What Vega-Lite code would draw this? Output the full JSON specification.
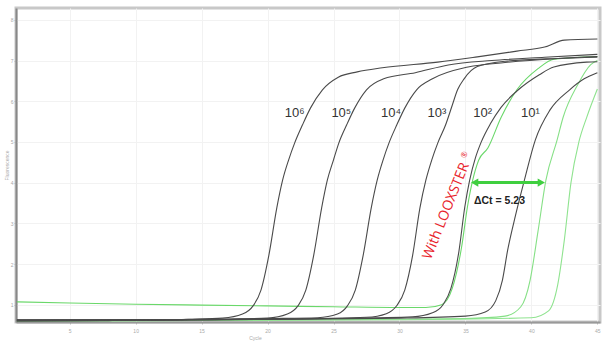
{
  "$schema": "https://vega.github.io/schema/vega-lite/v6.json",
  "width": 584,
  "height": 314,
  "autosize": {"type": "none"},
  "padding": {"left": 16, "top": 8, "right": 3, "bottom": 23},
  "background": "white",
  "config": {
    "view": {"stroke": "#c8c8c8", "strokeWidth": 3},
    "axis": {"gridColor": "#f2f2f2", "gridWidth": 1, "labelColor": "#aaaaaa", "labelFontSize": 5, "titleFontSize": 5, "titleColor": "#aaaaaa", "titleFontWeight": "normal", "tickColor": "#bbbbbb", "tickSize": 2, "labelFont": "Liberation Sans", "titleFont": "Liberation Sans"}
  },
  "datasets": {
    "curves": [
      {"s": "g1", "c": 1, "f": 1.07}, {"s": "g1", "c": 5, "f": 1.04}, {"s": "g1", "c": 10, "f": 1.01}, {"s": "g1", "c": 15, "f": 0.99}, {"s": "g1", "c": 20, "f": 0.97}, {"s": "g1", "c": 25, "f": 0.95}, {"s": "g1", "c": 30, "f": 0.93}, {"s": "g1", "c": 32, "f": 0.93}, {"s": "g1", "c": 33.2, "f": 1.0}, {"s": "g1", "c": 34.0, "f": 1.4}, {"s": "g1", "c": 34.7, "f": 2.4}, {"s": "g1", "c": 35.15, "f": 3.4}, {"s": "g1", "c": 35.55, "f": 4.06}, {"s": "g1", "c": 36.0, "f": 4.55}, {"s": "g1", "c": 36.7, "f": 4.85}, {"s": "g1", "c": 37.7, "f": 5.6}, {"s": "g1", "c": 38.9, "f": 6.28}, {"s": "g1", "c": 40.5, "f": 6.8}, {"s": "g1", "c": 41.7, "f": 7.03}, {"s": "g1", "c": 45, "f": 7.1},
      {"s": "g2", "c": 1, "f": 0.6}, {"s": "g2", "c": 25, "f": 0.63}, {"s": "g2", "c": 35, "f": 0.66}, {"s": "g2", "c": 38, "f": 0.72}, {"s": "g2", "c": 39.2, "f": 0.95}, {"s": "g2", "c": 39.9, "f": 1.6}, {"s": "g2", "c": 40.5, "f": 2.8}, {"s": "g2", "c": 41.1, "f": 4.06}, {"s": "g2", "c": 41.95, "f": 5.05}, {"s": "g2", "c": 42.4, "f": 5.6}, {"s": "g2", "c": 43.5, "f": 6.4}, {"s": "g2", "c": 44.5, "f": 6.9}, {"s": "g2", "c": 45, "f": 7.0},
      {"s": "g3", "c": 1, "f": 0.6}, {"s": "g3", "c": 30, "f": 0.63}, {"s": "g3", "c": 40, "f": 0.68}, {"s": "g3", "c": 41.3, "f": 0.85}, {"s": "g3", "c": 42.0, "f": 1.5}, {"s": "g3", "c": 42.5, "f": 2.6}, {"s": "g3", "c": 43.0, "f": 4.0}, {"s": "g3", "c": 43.6, "f": 5.0}, {"s": "g3", "c": 44.2, "f": 5.61}, {"s": "g3", "c": 45, "f": 6.3},
      {"s": "k6", "c": 1, "f": 0.6}, {"s": "k6", "c": 8, "f": 0.61}, {"s": "k6", "c": 14, "f": 0.64}, {"s": "k6", "c": 16.6, "f": 0.67}, {"s": "k6", "c": 18.1, "f": 0.77}, {"s": "k6", "c": 18.9, "f": 0.97}, {"s": "k6", "c": 19.5, "f": 1.36}, {"s": "k6", "c": 20.1, "f": 2.22}, {"s": "k6", "c": 20.7, "f": 3.38}, {"s": "k6", "c": 21.14, "f": 4.06}, {"s": "k6", "c": 21.6, "f": 4.56}, {"s": "k6", "c": 22.05, "f": 4.97}, {"s": "k6", "c": 22.65, "f": 5.42}, {"s": "k6", "c": 23.25, "f": 5.83}, {"s": "k6", "c": 24.16, "f": 6.28}, {"s": "k6", "c": 25.36, "f": 6.59}, {"s": "k6", "c": 26.8, "f": 6.72}, {"s": "k6", "c": 28.7, "f": 6.82}, {"s": "k6", "c": 32.9, "f": 6.96}, {"s": "k6", "c": 35.9, "f": 7.09}, {"s": "k6", "c": 38.9, "f": 7.23}, {"s": "k6", "c": 41.0, "f": 7.33}, {"s": "k6", "c": 42.5, "f": 7.5}, {"s": "k6", "c": 45, "f": 7.53},
      {"s": "k5", "c": 1, "f": 0.6}, {"s": "k5", "c": 10, "f": 0.62}, {"s": "k5", "c": 17, "f": 0.65}, {"s": "k5", "c": 20, "f": 0.67}, {"s": "k5", "c": 21.5, "f": 0.77}, {"s": "k5", "c": 22.3, "f": 0.97}, {"s": "k5", "c": 22.9, "f": 1.36}, {"s": "k5", "c": 23.5, "f": 2.22}, {"s": "k5", "c": 24.1, "f": 3.38}, {"s": "k5", "c": 24.53, "f": 4.06}, {"s": "k5", "c": 25.0, "f": 4.56}, {"s": "k5", "c": 25.4, "f": 4.97}, {"s": "k5", "c": 26.0, "f": 5.42}, {"s": "k5", "c": 26.6, "f": 5.83}, {"s": "k5", "c": 27.5, "f": 6.28}, {"s": "k5", "c": 28.8, "f": 6.55}, {"s": "k5", "c": 31.2, "f": 6.7}, {"s": "k5", "c": 33.7, "f": 6.89}, {"s": "k5", "c": 37, "f": 7.0}, {"s": "k5", "c": 41, "f": 7.08}, {"s": "k5", "c": 45, "f": 7.15},
      {"s": "k4", "c": 1, "f": 0.62}, {"s": "k4", "c": 12, "f": 0.62}, {"s": "k4", "c": 20, "f": 0.66}, {"s": "k4", "c": 23.8, "f": 0.68}, {"s": "k4", "c": 25.3, "f": 0.77}, {"s": "k4", "c": 26.05, "f": 0.97}, {"s": "k4", "c": 26.65, "f": 1.36}, {"s": "k4", "c": 27.25, "f": 2.22}, {"s": "k4", "c": 27.86, "f": 3.38}, {"s": "k4", "c": 28.31, "f": 4.06}, {"s": "k4", "c": 28.76, "f": 4.56}, {"s": "k4", "c": 29.2, "f": 4.97}, {"s": "k4", "c": 29.8, "f": 5.42}, {"s": "k4", "c": 30.4, "f": 5.83}, {"s": "k4", "c": 31.3, "f": 6.28}, {"s": "k4", "c": 32.5, "f": 6.55}, {"s": "k4", "c": 35.2, "f": 6.84}, {"s": "k4", "c": 38, "f": 6.95}, {"s": "k4", "c": 42, "f": 7.05}, {"s": "k4", "c": 45, "f": 7.1},
      {"s": "k3", "c": 1, "f": 0.62}, {"s": "k3", "c": 15, "f": 0.63}, {"s": "k3", "c": 24, "f": 0.66}, {"s": "k3", "c": 27.5, "f": 0.69}, {"s": "k3", "c": 29, "f": 0.78}, {"s": "k3", "c": 29.8, "f": 0.98}, {"s": "k3", "c": 30.4, "f": 1.36}, {"s": "k3", "c": 31.0, "f": 2.22}, {"s": "k3", "c": 31.55, "f": 3.38}, {"s": "k3", "c": 32.0, "f": 4.06}, {"s": "k3", "c": 32.45, "f": 4.56}, {"s": "k3", "c": 32.9, "f": 4.97}, {"s": "k3", "c": 33.5, "f": 5.42}, {"s": "k3", "c": 34.0, "f": 5.9}, {"s": "k3", "c": 34.4, "f": 6.28}, {"s": "k3", "c": 34.9, "f": 6.55}, {"s": "k3", "c": 35.9, "f": 6.85}, {"s": "k3", "c": 38, "f": 6.98}, {"s": "k3", "c": 42, "f": 7.05}, {"s": "k3", "c": 45, "f": 7.08},
      {"s": "k2", "c": 1, "f": 0.62}, {"s": "k2", "c": 15, "f": 0.63}, {"s": "k2", "c": 25, "f": 0.66}, {"s": "k2", "c": 31, "f": 0.7}, {"s": "k2", "c": 32.5, "f": 0.8}, {"s": "k2", "c": 33.3, "f": 1.0}, {"s": "k2", "c": 33.9, "f": 1.4}, {"s": "k2", "c": 34.5, "f": 2.3}, {"s": "k2", "c": 34.95, "f": 3.4}, {"s": "k2", "c": 35.32, "f": 4.06}, {"s": "k2", "c": 35.75, "f": 4.6}, {"s": "k2", "c": 36.2, "f": 5.0}, {"s": "k2", "c": 36.9, "f": 5.45}, {"s": "k2", "c": 37.7, "f": 5.85}, {"s": "k2", "c": 38.9, "f": 6.25}, {"s": "k2", "c": 40.6, "f": 6.65}, {"s": "k2", "c": 41.7, "f": 6.84}, {"s": "k2", "c": 44.2, "f": 6.96}, {"s": "k2", "c": 45, "f": 6.97},
      {"s": "k1", "c": 1, "f": 0.62}, {"s": "k1", "c": 20, "f": 0.64}, {"s": "k1", "c": 30, "f": 0.67}, {"s": "k1", "c": 35, "f": 0.72}, {"s": "k1", "c": 36.5, "f": 0.82}, {"s": "k1", "c": 37.3, "f": 1.1}, {"s": "k1", "c": 37.8, "f": 1.6}, {"s": "k1", "c": 38.2, "f": 2.34}, {"s": "k1", "c": 38.8, "f": 3.2}, {"s": "k1", "c": 39.47, "f": 4.06}, {"s": "k1", "c": 40.3, "f": 5.05}, {"s": "k1", "c": 41.4, "f": 5.78}, {"s": "k1", "c": 42.9, "f": 6.28}, {"s": "k1", "c": 44, "f": 6.55}, {"s": "k1", "c": 45, "f": 6.7}
    ],
    "labels": [
      {"t": "10⁶", "c": 22.05, "f": 5.71},
      {"t": "10⁵", "c": 25.59, "f": 5.71},
      {"t": "10⁴", "c": 29.36, "f": 5.71},
      {"t": "10³", "c": 32.83, "f": 5.71},
      {"t": "10²", "c": 36.3, "f": 5.71},
      {"t": "10¹", "c": 39.92, "f": 5.71}
    ],
    "arrow": [
      {"c": 35.7, "f": 4.0, "dir": "l"},
      {"c": 40.75, "f": 4.0, "dir": "r"}
    ]
  },
  "layer": [
    {
      "data": {"name": "curves"},
      "mark": {"type": "line", "interpolate": "monotone", "strokeWidth": 1.1},
      "encoding": {
        "x": {"field": "c", "type": "quantitative", "scale": {"domain": [0.93, 45.2], "nice": false, "zero": false}, "axis": {"values": [5, 10, 15, 20, 25, 30, 35, 40, 45], "title": "Cycle", "titleX": 239, "titlePadding": 2, "labelPadding": 4, "grid": true, "domainColor": "#999999", "domainWidth": 2}},
        "y": {"field": "f", "type": "quantitative", "scale": {"domain": [0.575, 8.29], "nice": false, "zero": false}, "axis": {"values": [1, 2, 3, 4, 5, 6, 7, 8], "title": "Fluorescence", "titlePadding": 1, "labelPadding": 1, "grid": true, "domainColor": "#888888", "domainWidth": 2}},
        "color": {"field": "s", "type": "nominal", "legend": null, "scale": {"domain": ["k6", "k5", "k4", "k3", "k2", "k1", "g1", "g2", "g3"], "range": ["#4a4a4a", "#4a4a4a", "#4a4a4a", "#4a4a4a", "#4a4a4a", "#4a4a4a", "#6ad86a", "#86e086", "#8fe38f"]}}
      }
    },
    {
      "data": {"name": "labels"},
      "mark": {"type": "text", "font": "Liberation Sans", "fontSize": 13, "color": "#333333"},
      "encoding": {
        "x": {"field": "c", "type": "quantitative"},
        "y": {"field": "f", "type": "quantitative"},
        "text": {"field": "t"}
      }
    },
    {
      "data": {"name": "arrow"},
      "mark": {"type": "line", "color": "#3fcf3f", "strokeWidth": 3},
      "encoding": {
        "x": {"field": "c", "type": "quantitative"},
        "y": {"field": "f", "type": "quantitative"}
      }
    },
    {
      "data": {"name": "arrow"},
      "mark": {"type": "point", "filled": true, "color": "#3fcf3f", "opacity": 1, "size": 70},
      "encoding": {
        "x": {"field": "c", "type": "quantitative"},
        "y": {"field": "f", "type": "quantitative"},
        "shape": {"field": "dir", "type": "nominal", "legend": null, "scale": {"domain": ["l", "r"], "range": ["triangle-left", "triangle-right"]}}
      }
    },
    {
      "data": {"values": [{"t": "ΔCt = 5.23", "c": 37.58, "f": 3.55}]},
      "mark": {"type": "text", "font": "Liberation Sans", "fontSize": 10.5, "fontWeight": "bold", "color": "#222222"},
      "encoding": {
        "x": {"field": "c", "type": "quantitative"},
        "y": {"field": "f", "type": "quantitative"},
        "text": {"field": "t"}
      }
    },
    {
      "data": {"values": [{"t": "With LOOXSTER", "c": 33.55, "f": 3.3}]},
      "mark": {"type": "text", "font": "Open Sans", "fontSize": 14, "angle": 292, "color": "#e8232b"},
      "encoding": {
        "x": {"field": "c", "type": "quantitative"},
        "y": {"field": "f", "type": "quantitative"},
        "text": {"field": "t"}
      }
    },
    {
      "data": {"values": [{"t": "®", "c": 34.95, "f": 4.68}]},
      "mark": {"type": "text", "font": "Open Sans", "fontSize": 8, "angle": 292, "color": "#e8232b"},
      "encoding": {
        "x": {"field": "c", "type": "quantitative"},
        "y": {"field": "f", "type": "quantitative"},
        "text": {"field": "t"}
      }
    }
  ]
}
